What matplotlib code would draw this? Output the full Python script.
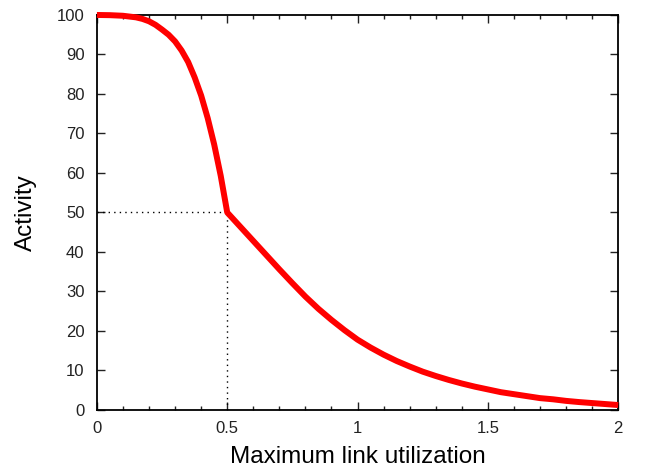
import matplotlib.pyplot as plt
from matplotlib.ticker import MultipleLocator

plt.rcParams['font.family'] = ['Liberation Sans', 'DejaVu Sans']

# activity vs. maximum link utilization
util = [0.0, 0.05, 0.10, 0.125, 0.15, 0.175, 0.20, 0.225, 0.25, 0.275,
        0.30, 0.325, 0.35, 0.375, 0.40, 0.425, 0.45, 0.475, 0.5,
        0.55, 0.60, 0.65, 0.70, 0.75, 0.80, 0.85, 0.90, 0.95, 1.00,
        1.05, 1.10, 1.15, 1.20, 1.25, 1.30, 1.35, 1.40, 1.45, 1.50,
        1.55, 1.60, 1.65, 1.70, 1.75, 1.80, 1.85, 1.90, 1.95, 2.00]
activity = [100.0, 99.95, 99.8, 99.6, 99.4, 99.0, 98.4, 97.5, 96.3, 95.0,
            93.3, 91.0, 88.1, 84.2, 79.6, 73.9, 67.2, 59.3, 50.0,
            46.4, 42.8, 39.2, 35.6, 32.1, 28.7, 25.6, 22.8, 20.2, 17.8,
            15.8, 14.0, 12.4, 11.0, 9.7, 8.6, 7.6, 6.7, 5.9, 5.2,
            4.5, 4.0, 3.5, 3.0, 2.7, 2.3, 2.0, 1.75, 1.5, 1.25]

knee_x = 0.5
knee_y = 50

fig = plt.figure(figsize=(6.46, 4.68), dpi=100)
ax = fig.add_axes([0.150, 0.124, 0.807, 0.844])

ax.plot(util, activity, color='#ff0000', lw=4.3, solid_joinstyle='round',
        solid_capstyle='butt', zorder=3, clip_on=False)
ax.plot([0, knee_x], [knee_y, knee_y], color='black', lw=1.0, ls=(0, (1, 3)))
ax.plot([knee_x, knee_x], [0, knee_y], color='black', lw=1.0, ls=(0, (1, 3)))

ax.set_xlim(0, 2)
ax.set_ylim(0, 100)
ax.xaxis.set_minor_locator(MultipleLocator(0.1))
ax.yaxis.set_major_locator(MultipleLocator(10))
ax.set_xticks([0, 0.5, 1, 1.5, 2])
ax.set_xticklabels(['0', '0.5', '1', '1.5', '2'])

ax.tick_params(which='both', direction='in', top=True, right=True,
               labelsize=12, colors='#222222', width=1.0)
ax.tick_params(which='major', length=6)
ax.tick_params(which='minor', length=3)
ax.tick_params(axis='x', pad=8)
ax.tick_params(axis='y', pad=9)
for s in ax.spines.values():
    s.set_linewidth(1.3)

ax.set_xlabel('Maximum link utilization', fontsize=17.5, labelpad=7)
ax.set_ylabel('Activity', fontsize=17.5, labelpad=14)

fig.savefig('out.png', dpi=100)
